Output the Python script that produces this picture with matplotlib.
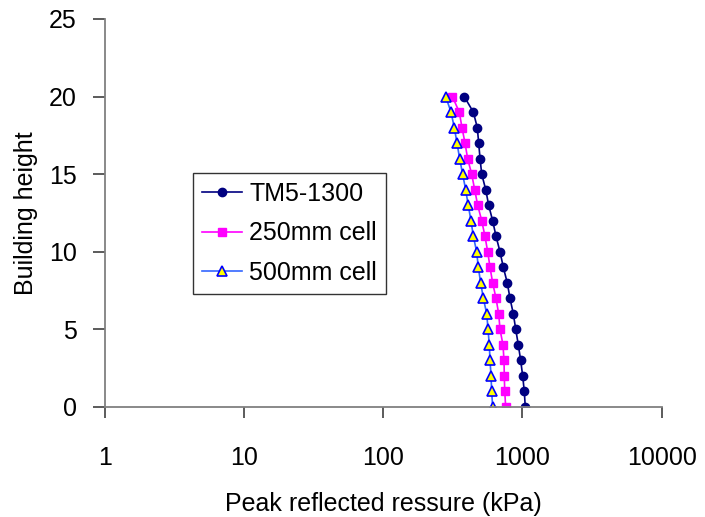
import numpy as np
import matplotlib
matplotlib.use("Agg")
import matplotlib.pyplot as plt

plt.rcParams['font.family'] = ['Liberation Sans', 'DejaVu Sans']

# storey level (0 = ground) and peak reflected pressure in kPa
height = list(range(0, 21))
tm5_1300 = [1048, 1031, 1004, 971, 934, 895, 860, 814, 778, 729, 690,
            646, 611, 572, 545, 510, 496, 485, 474, 444, 382]
cell_250 = [758, 746, 741, 737, 725, 690, 675, 646, 611, 585, 563,
            538, 510, 477, 454, 432, 404, 387, 368, 352, 314]
cell_500 = [611, 601, 595, 585, 578, 566, 554, 524, 501, 482, 469,
            444, 427, 408, 391, 372, 354, 339, 324, 307, 281]

fig = plt.figure(figsize=(7.05, 5.17), dpi=100)
ax = fig.add_axes([104.7 / 705, 110 / 517, 557 / 705, 388 / 517])

ax.plot(tm5_1300, height, color="#000080", marker="o", markersize=6,
        linewidth=1.2, label="TM5-1300")
ax.plot(cell_250, height, color="#FF00FF", marker="s", markersize=6,
        linewidth=1.2, label="250mm cell")
ax.plot(cell_500, height, color="#3366FF", marker="^", markersize=7,
        markerfacecolor="#FFFF00", markeredgecolor="#0000FF",
        markeredgewidth=1.2, linewidth=1.2, label="500mm cell")

ax.set_xscale("log")
ax.set_xlim(1, 10000)
ax.set_ylim(0, 25)
ax.set_xticks([1, 10, 100, 1000, 10000])
ax.set_xticklabels(["1", "10", "100", "1000", "10000"])
ax.minorticks_off()
ax.set_yticks([0, 5, 10, 15, 20, 25])

for side in ["top", "right"]:
    ax.spines[side].set_visible(False)
for side in ["left", "bottom"]:
    ax.spines[side].set_color("#808080")
    ax.spines[side].set_linewidth(1.3)

ax.tick_params(axis="x", direction="out", length=8, width=1.2,
               color="#404040", labelsize=18, pad=20)
ax.tick_params(axis="y", direction="out", length=9, width=1.2,
               color="#404040", labelsize=18, pad=11)

ax.set_xlabel("Peak reflected ressure (kPa)", fontsize=18, labelpad=16)
ax.set_ylabel("Building height", fontsize=18, labelpad=8)

leg = ax.legend(loc="upper left",
                bbox_to_anchor=(193 / 705, (517 - 173) / 517),
                bbox_transform=fig.transFigure, fontsize=18, frameon=True,
                fancybox=False, edgecolor="#000000", handlelength=1.6,
                borderpad=0.35, labelspacing=0.62, handletextpad=0.3,
                borderaxespad=0)
leg.get_frame().set_linewidth(1.0)

fig.savefig("out.png", dpi=100)
